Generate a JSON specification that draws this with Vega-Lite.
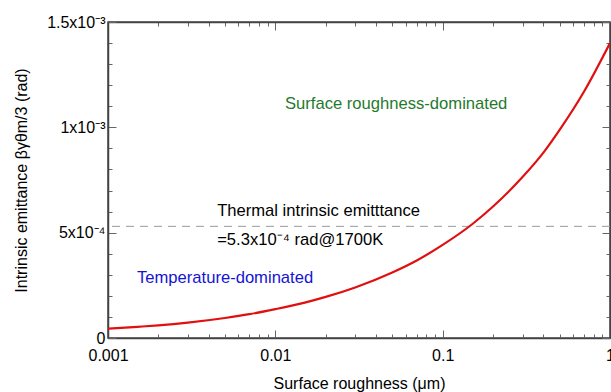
{
  "$schema": "https://vega.github.io/schema/vega-lite/v6.json",
  "width": 502,
  "height": 316,
  "autosize": {"type": "none"},
  "padding": {"left": 108, "top": 22, "right": 1, "bottom": 54},
  "background": "white",
  "config": {
    "font": "Liberation Sans",
    "view": {"stroke": "#444", "strokeWidth": 1.5},
    "axis": {
      "grid": false,
      "domainColor": "#444",
      "domainWidth": 1.5,
      "tickColor": "#666",
      "tickWidth": 1,
      "labelFont": "Liberation Sans",
      "labelFontSize": 16,
      "labelColor": "black",
      "titleFont": "Liberation Sans",
      "titleFontSize": 16,
      "titleFontWeight": "normal",
      "titleColor": "black",
      "labelFlush": false,
      "labelOverlap": false
    }
  },
  "datasets": {
    "curve": [
      {"r": 0.001, "e": 0.000044},
      {"r": 0.0015, "e": 0.000053},
      {"r": 0.002, "e": 0.00006},
      {"r": 0.003, "e": 0.000073},
      {"r": 0.005, "e": 0.000095},
      {"r": 0.007, "e": 0.000113},
      {"r": 0.01, "e": 0.000137},
      {"r": 0.015, "e": 0.000168},
      {"r": 0.02, "e": 0.000195},
      {"r": 0.03, "e": 0.00024},
      {"r": 0.05, "e": 0.000311},
      {"r": 0.07, "e": 0.000368},
      {"r": 0.1, "e": 0.000442},
      {"r": 0.15, "e": 0.00054},
      {"r": 0.2, "e": 0.000624},
      {"r": 0.3, "e": 0.000764},
      {"r": 0.4, "e": 0.00088},
      {"r": 0.5, "e": 0.000988},
      {"r": 0.7, "e": 0.00117},
      {"r": 1.0, "e": 0.0014}
    ],
    "notes": [
      {"r": 0.01143, "e": 0.001111, "label": "Surface roughness-dominated", "color": "#1f7a2e"},
      {"r": 0.00449, "e": 0.000603, "label": "Thermal intrinsic emitttance", "color": "black"},
      {"r": 0.00449, "e": 0.000465, "label": "=5.3x10⁻⁴ rad@1700K", "color": "black"},
      {"r": 0.00149, "e": 0.000285, "label": "Temperature-dominated", "color": "#1414d2"}
    ],
    "thermal": [{"e": 0.00053}]
  },
  "resolve": {"axis": {"x": "independent", "y": "independent"}},
  "layer": [
    {
      "data": {"name": "thermal"},
      "mark": {"type": "rule", "color": "#9a9a9a", "strokeWidth": 1, "strokeDash": [8, 6]},
      "encoding": {
        "y": {"field": "e", "type": "quantitative", "axis": null}
      }
    },
    {
      "data": {"name": "curve"},
      "mark": {"type": "line", "color": "#e01010", "strokeWidth": 2.2, "interpolate": "monotone", "clip": true},
      "encoding": {
        "x": {
          "field": "r", "type": "quantitative",
          "scale": {"type": "log", "domain": [0.001, 1], "nice": false},
          "axis": {
            "orient": "bottom",
            "title": "Surface roughness (μm)",
            "values": [0.001,0.002,0.003,0.004,0.005,0.006,0.007,0.008,0.009,0.01,0.02,0.03,0.04,0.05,0.06,0.07,0.08,0.09,0.1,0.2,0.3,0.4,0.5,0.6,0.7,0.8,0.9,1],
            "format": "~g",
            "labelExpr": "abs(log(datum.value)/LN10 - round(log(datum.value)/LN10)) < 1e-6 ? datum.label : ''",
            "tickSize": {"condition": {"test": "abs(log(datum.value)/LN10 - round(log(datum.value)/LN10)) < 1e-6", "value": -8}, "value": -4},
            "labelPadding": 17,
            "titlePadding": 8
          }
        },
        "y": {
          "field": "e", "type": "quantitative",
          "scale": {"domain": [0, 0.0015], "nice": false},
          "axis": {
            "orient": "left",
            "title": "Intrinsic emittance βγθm/3 (rad)",
            "values": [0,0.0001,0.0002,0.0003,0.0004,0.0005,0.0006,0.0007,0.0008,0.0009,0.001,0.0011,0.0012,0.0013,0.0014,0.0015],
            "labelExpr": "abs(datum.value) < 1e-9 ? '0' : abs(datum.value-0.0005) < 1e-9 ? '5x10⁻⁴' : abs(datum.value-0.001) < 1e-9 ? '1x10⁻³' : abs(datum.value-0.0015) < 1e-9 ? '1.5x10⁻³' : ''",
            "tickSize": {"condition": {"test": "abs(datum.value/0.0005 - round(datum.value/0.0005)) < 1e-6", "value": -8}, "value": -4},
            "labelPadding": 11,
            "titlePadding": 17
          }
        }
      }
    },
    {
      "data": {"name": "notes"},
      "mark": {"type": "text", "align": "left", "baseline": "middle", "fontSize": 16.6, "font": "Liberation Sans"},
      "encoding": {
        "x": {
          "field": "r", "type": "quantitative",
          "axis": {
            "orient": "top", "title": null, "labels": false,
            "values": [0.001,0.002,0.003,0.004,0.005,0.006,0.007,0.008,0.009,0.01,0.02,0.03,0.04,0.05,0.06,0.07,0.08,0.09,0.1,0.2,0.3,0.4,0.5,0.6,0.7,0.8,0.9,1],
            "tickSize": {"condition": {"test": "abs(log(datum.value)/LN10 - round(log(datum.value)/LN10)) < 1e-6", "value": -8}, "value": -4}
          }
        },
        "y": {
          "field": "e", "type": "quantitative",
          "axis": {
            "orient": "right", "title": null, "labels": false,
            "values": [0,0.0001,0.0002,0.0003,0.0004,0.0005,0.0006,0.0007,0.0008,0.0009,0.001,0.0011,0.0012,0.0013,0.0014,0.0015],
            "tickSize": {"condition": {"test": "abs(datum.value/0.0005 - round(datum.value/0.0005)) < 1e-6", "value": -8}, "value": -4}
          }
        },
        "text": {"field": "label", "type": "nominal"},
        "color": {"field": "color", "type": "nominal", "scale": null}
      }
    }
  ]
}
